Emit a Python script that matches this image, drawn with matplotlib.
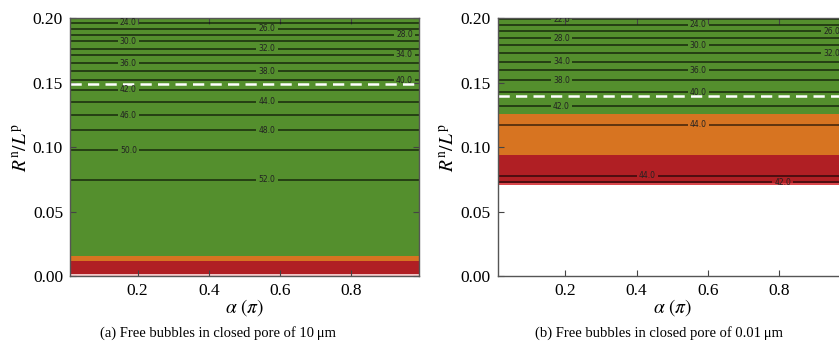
import numpy as np
import matplotlib
matplotlib.use("Agg")
from matplotlib import pyplot as plt

plt.rcParams["font.family"] = "serif"
plt.rcParams["font.serif"] = ["Liberation Serif", "DejaVu Serif"]
plt.rcParams["mathtext.fontset"] = "stix"

# contact angle axis
alpha_lim = (0.01, 0.99)

# contoured quantity along R^n/L^p (same for every alpha)
r_a = [0.2000, 0.1967, 0.1921, 0.1874, 0.1823, 0.1766, 0.1717, 0.1654,
       0.1590, 0.1520, 0.1445, 0.1354, 0.1248, 0.1132, 0.0976, 0.0748, 0.0000]
v_a = [22.6, 24, 26, 28, 30, 32, 34, 36, 38, 40, 42, 44, 46, 48, 50, 52, 53.5]

r_b = [0.2000, 0.1994, 0.1950, 0.1901, 0.1846, 0.1792, 0.1732, 0.1665,
       0.1598, 0.1520, 0.1429, 0.1320, 0.1175, 0.1000, 0.0779, 0.0728, 0.0712]
v_b = [21.8, 22, 24, 26, 28, 30, 32, 34, 36, 38, 40, 42, 44, 45.0, 44, 42, 41.6]

levels_a = np.arange(24, 54, 2)
levels_b = np.arange(22, 46, 2)

# regime bands: edges from bottom to top and their colours
bands_a = [0.0000, 0.0018, 0.0117, 0.0155, 0.2000]
colors_a = ["#f3c6c6", "#b01f24", "#d77421", "#548f2d"]
bands_b = [0.0710, 0.0725, 0.0940, 0.1261, 0.2000]
colors_b = ["#d9474b", "#b01f24", "#d77421", "#548f2d"]

# threshold radius (dashed line)
thr_a = 0.1494
thr_b = 0.1396

# where the inline labels sit along each labelled line (alpha)
lab_x_a = [0.174, 0.563, 0.949, 0.174, 0.563, 0.949, 0.174, 0.563,
           0.949, 0.174, 0.563, 0.174, 0.563, 0.174, 0.563]
lab_x_b = [0.189, 0.573, 0.948, 0.189, 0.573, 0.948, 0.189, 0.573,
           0.189, 0.573, 0.189, 0.573, 0.43, 0.81]

captions = ["(a) Free bubbles in closed pore of 10\u2009\u03bcm",
            "(b) Free bubbles in closed pore of 0.01\u2009\u03bcm"]

alpha = np.linspace(alpha_lim[0], alpha_lim[1], 99)

fig = plt.figure(figsize=(8.39, 3.51), dpi=100)
ax1 = fig.add_axes([0.0834, 0.2137, 0.416, 0.7336])
ax2 = fig.add_axes([0.5932, 0.2137, 0.416, 0.7336])

panels = [(ax1, r_a, v_a, levels_a, bands_a, colors_a, thr_a, lab_x_a),
          (ax2, r_b, v_b, levels_b, bands_b, colors_b, thr_b, lab_x_b)]

for ax, r, v, levels, bands, colors, thr, lab_x in panels:
    for lo, hi, c in zip(bands[:-1], bands[1:], colors):
        ax.fill_between(alpha_lim, lo, hi, color=c, lw=0)

    r = np.array(r)[::-1]
    v = np.array(v)[::-1]
    Z = np.tile(v[:, None], (1, len(alpha)))
    cs = ax.contour(alpha, r, Z, levels=levels, colors="k",
                    linewidths=1.1, alpha=0.7)
    on_level = np.isin(v, levels)
    lab_r = r[on_level][::-1]
    texts = ax.clabel(cs, manual=list(zip(lab_x, lab_r)), fmt="%.1f",
                      fontsize=5.5, inline=True, inline_spacing=4, colors="k")
    for t in texts:
        t.set_family("DejaVu Sans")
        t.set_color("#222222")

    ax.axhline(thr, color="white", lw=1.8, dashes=(4.5, 2.5))

    ax.set_xlim(alpha_lim)
    ax.set_ylim(0, 0.2)
    ax.set_xticks([0.2, 0.4, 0.6, 0.8])
    ax.set_yticks([0.0, 0.05, 0.10, 0.15, 0.20])
    ax.yaxis.set_major_formatter(matplotlib.ticker.FormatStrFormatter("%.2f"))
    ax.tick_params(direction="in", top=True, right=True, length=4,
                   width=0.8, color="#444444", labelsize=12.5, pad=5)
    for s in ax.spines.values():
        s.set_color("#555555")
        s.set_linewidth(1.0)
    ax.set_xlabel(r"$\alpha\ (\pi)$", fontsize=14, labelpad=-1)
    ax.set_ylabel(r"$R^{\mathrm{n}}/L^{\mathrm{p}}$", fontsize=14, labelpad=2)

fig.text(218 / 839, 1 - 333 / 351, captions[0], ha="center", va="center",
         fontsize=10.5)
fig.text(659 / 839, 1 - 333 / 351, captions[1], ha="center", va="center",
         fontsize=10.5)

fig.savefig("out.png", dpi=100)
